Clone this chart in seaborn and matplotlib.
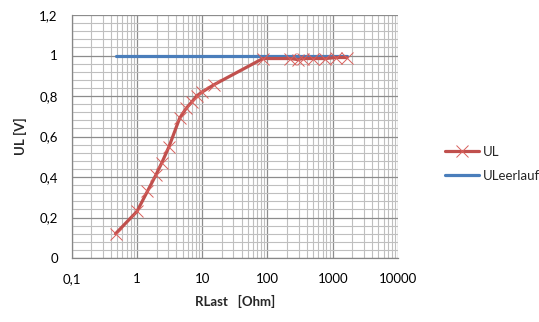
import matplotlib
matplotlib.use("Agg")
import matplotlib.pyplot as plt
import matplotlib.ticker as mticker
import numpy as np
import pandas as pd
import seaborn as sns

# Load resistance [Ohm] and measured load voltage [V]
r_last = [0.47, 1.0, 1.45, 1.95, 2.4, 3.1, 4.5, 5.7, 6.9, 8.2, 10, 15,
          85, 225, 290, 350, 500, 770, 1130, 1650]
u_l = [0.12, 0.23, 0.33, 0.41, 0.47, 0.55, 0.69, 0.74, 0.77, 0.80, 0.82, 0.855,
       0.985, 0.985, 0.98, 0.985, 0.985, 0.985, 0.99, 0.99]

# Open-circuit voltage reference
r_leer = [0.47, 1650]
u_leer = [1.0, 1.0]

x_ticks = [0.1, 1, 10, 100, 1000, 10000]
y_ticks = [0, 0.2, 0.4, 0.6, 0.8, 1.0, 1.2]

sns.set_theme(style="white")
plt.rcParams["font.family"] = ["Lato", "DejaVu Sans"]

df_ul = pd.DataFrame({"RLast": r_last, "U": u_l})
df_leer = pd.DataFrame({"RLast": r_leer, "U": u_leer})

fig = plt.figure(figsize=(5.39, 3.22), dpi=100)
ax = fig.add_axes([71.7 / 539, 1 - 258 / 322, (398 - 71.7) / 539, (258 - 15) / 322])

red = "#C0504D"
blue = "#4A7EBB"

sns.lineplot(data=df_ul, x="RLast", y="U", ax=ax, color=red, linewidth=2.3,
             marker="x", markersize=8.5, markeredgewidth=0.7,
             markeredgecolor="#D9605C", label="UL", zorder=3, estimator=None, sort=False)
sns.lineplot(data=df_leer, x="RLast", y="U", ax=ax, color=blue, linewidth=2.3,
             label="ULeerlauf", zorder=2, estimator=None, sort=False)

ax.set_xscale("log")
ax.set_xlim(0.1, 10000)
ax.set_ylim(0, 1.2)

ax.set_xticks(x_ticks)
ax.xaxis.set_minor_locator(mticker.LogLocator(base=10, subs=np.arange(2, 10), numticks=100))
ax.xaxis.set_minor_formatter(mticker.NullFormatter())
ax.set_yticks(y_ticks)
ax.yaxis.set_minor_locator(mticker.MultipleLocator(0.04))


def comma(v, pos):
    s = f"{v:g}"
    return s.replace(".", ",")


ax.xaxis.set_major_formatter(mticker.FuncFormatter(comma))
ax.yaxis.set_major_formatter(mticker.FuncFormatter(comma))

ax.grid(which="major", color="#8C8C8C", linewidth=0.9)
ax.grid(which="minor", color="#BFBFBF", linewidth=0.8)
ax.set_axisbelow(True)

for side in ["top", "right"]:
    ax.spines[side].set_visible(False)
for side in ["left", "bottom"]:
    ax.spines[side].set_color("#868686")
    ax.spines[side].set_linewidth(0.9)

ax.tick_params(axis="x", which="major", direction="out", length=4, width=0.8,
               color="#868686", pad=7, labelsize=9.5, labelcolor="#000000")
ax.tick_params(axis="x", which="minor", direction="out", length=2, width=0.6,
               color="#A6A6A6")
ax.tick_params(axis="y", which="both", length=0, pad=10, labelsize=9.5,
               labelcolor="#000000")

ax.set_xlabel("RLast   [Ohm]", fontsize=9.5, fontweight="bold", labelpad=7)
ax.set_ylabel("UL [V]", fontsize=9.5, fontweight="bold", labelpad=9)

ax.legend_.remove()
handles, labels = ax.get_legend_handles_labels()
fig.legend(handles, labels, loc="upper left", bbox_to_anchor=(433 / 539, 1 - 134 / 322),
           frameon=False, fontsize=9.5, handlelength=2.6, labelspacing=0.9,
           handletextpad=0.3)

fig.savefig("out.png", dpi=100)
